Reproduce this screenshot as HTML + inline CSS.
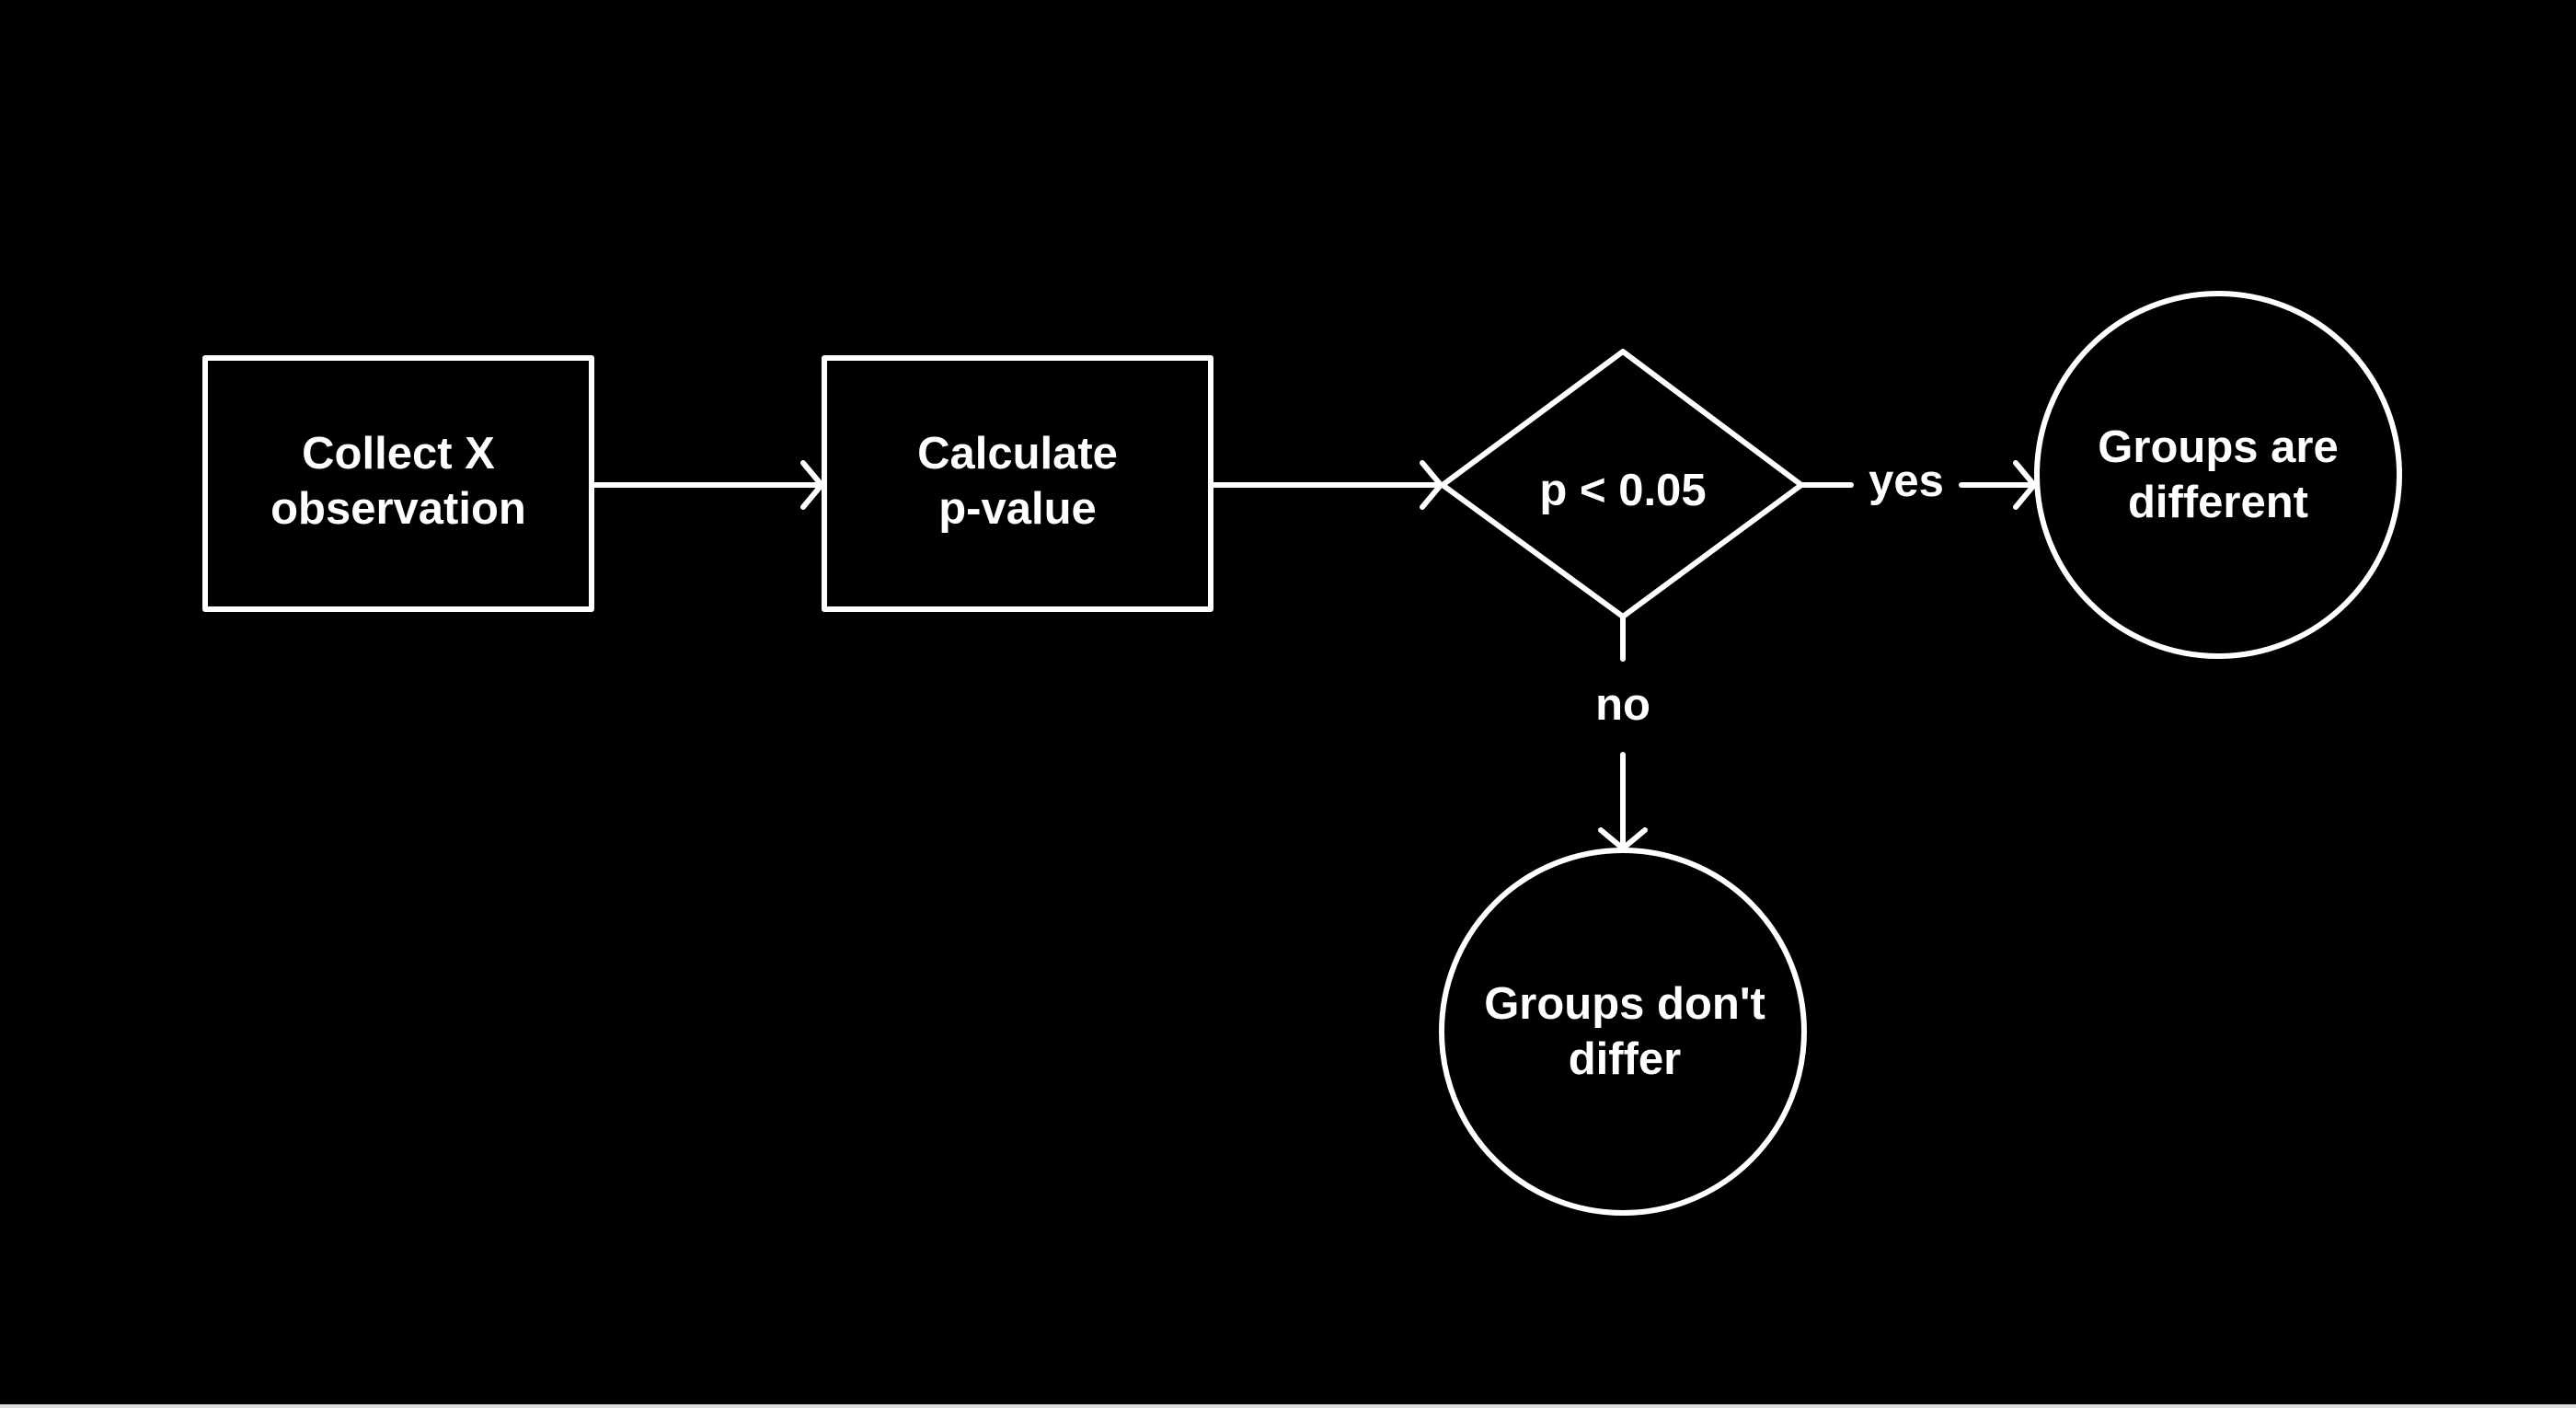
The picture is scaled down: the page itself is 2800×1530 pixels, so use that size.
<!DOCTYPE html>
<html><head><style>
html,body{margin:0;padding:0;background:#000;}
svg{display:block;}
text{font-family:"Liberation Sans",sans-serif;fill:#fff;font-size:49px;font-weight:bold;text-anchor:middle;}
</style></head><body>
<svg width="2800" height="1530" viewBox="0 0 2800 1530" xmlns="http://www.w3.org/2000/svg">
<rect width="2800" height="1530" fill="#000"/>
<rect x="0" y="1526" width="2800" height="4" fill="#ddd"/>
<g fill="none" stroke="#fff" stroke-width="6" stroke-linejoin="round" stroke-linecap="round">
<rect x="223" y="389" width="420" height="273"/>
<rect x="896" y="389" width="420" height="273"/>
<polygon points="1568,527 1764,382 1958,527 1764,670"/>
<circle cx="2411" cy="516" r="197"/>
<circle cx="1764" cy="1121" r="197"/>
<line x1="643" y1="527" x2="893" y2="527"/>
<polyline points="873,503 893,527 873,551"/>
<line x1="1316" y1="527" x2="1566" y2="527"/>
<polyline points="1546,503 1566,527 1546,551"/>
<line x1="1958" y1="527" x2="2012" y2="527"/>
<line x1="2132" y1="527" x2="2211" y2="527"/>
<polyline points="2191,503 2211,527 2191,551"/>
<line x1="1764" y1="670" x2="1764" y2="716"/>
<line x1="1764" y1="820" x2="1764" y2="922"/>
<polyline points="1740,902 1764,922 1788,902"/>
</g>
<text x="433" y="509">Collect X</text>
<text x="433" y="569">observation</text>
<text x="1106" y="509">Calculate</text>
<text x="1106" y="569">p-value</text>
<text x="1764" y="549">p &lt; 0.05</text>
<text x="2072" y="539">yes</text>
<text x="1764" y="782">no</text>
<text x="2411" y="502">Groups are</text>
<text x="2411" y="562">different</text>
<text x="1766" y="1107">Groups don't</text>
<text x="1766" y="1167">differ</text>
</svg>
</body></html>
